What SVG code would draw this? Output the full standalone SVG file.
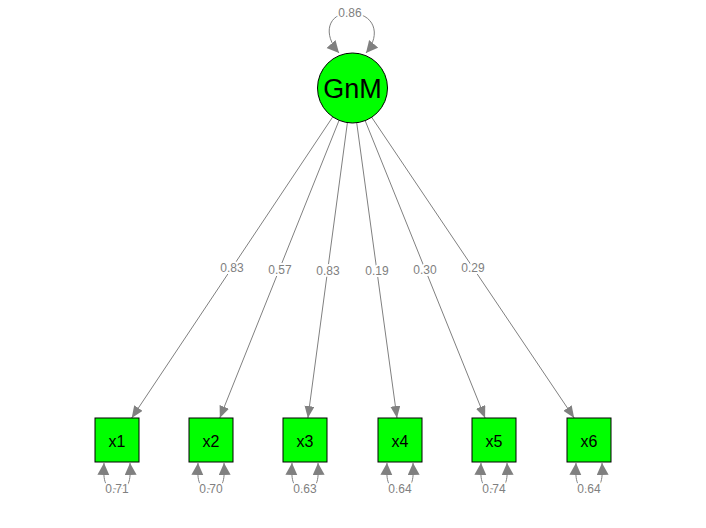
<svg xmlns="http://www.w3.org/2000/svg" width="706" height="528" viewBox="0 0 706 528">
<defs>
<marker id="ah" markerUnits="userSpaceOnUse" markerWidth="14" markerHeight="12" refX="12" refY="5" orient="auto">
<path d="M0,0 L12,5 L0,10 z" fill="#808080"/>
</marker>
<marker id="ahl" markerUnits="userSpaceOnUse" markerWidth="14" markerHeight="14" refX="12" refY="6" orient="auto">
<path d="M0,0 L12,6 L0,12 z" fill="#808080"/>
</marker>
<style>
.edge{stroke:#808080;stroke-width:1;fill:none;marker-end:url(#ah)}
.loop{stroke:#808080;stroke-width:1;fill:none;marker-end:url(#ahl)}
.lbl{font-family:"Liberation Sans",Arial,sans-serif;font-size:12px;fill:#808080;text-anchor:middle;dominant-baseline:central;stroke:#ffffff;stroke-width:4;paint-order:stroke;stroke-linejoin:round}
.box{fill:#00ff00;stroke:#000;stroke-width:1}
.nt{font-family:"Liberation Sans",Arial,sans-serif;fill:#000;text-anchor:middle;dominant-baseline:central}
</style>
</defs>
<rect width="706" height="528" fill="#fff"/>
<g id="connectors">
<line class="edge" x1="332.6" y1="117.1" x2="131.7" y2="418"/>
<line class="edge" x1="339" y1="120.5" x2="219.8" y2="418"/>
<line class="edge" x1="347.4" y1="122.7" x2="307.9" y2="418"/>
<line class="edge" x1="356.7" y1="122.7" x2="397" y2="418"/>
<line class="edge" x1="365.1" y1="120.5" x2="485.1" y2="418"/>
<line class="edge" x1="371.5" y1="117" x2="574.2" y2="418"/>
<text class="lbl" x="232" y="268">0.83</text>
<text class="lbl" x="280" y="270">0.57</text>
<text class="lbl" x="328" y="271">0.83</text>
<text class="lbl" x="377" y="271">0.19</text>
<text class="lbl" x="425" y="270">0.30</text>
<text class="lbl" x="473" y="268">0.29</text>
<path class="loop" d="M350,13 C328,13 322,34 339,53"/>
<path class="loop" d="M350,13 C374,13 382,34 366,53"/>
<text class="lbl" x="350" y="13">0.86</text>
<path class="loop" d="M117,489 C105,489 103,482 104,463"/>
<path class="loop" d="M117,489 C129,489 131,482 130,463"/>
<text class="lbl" x="117" y="489">0.71</text>
<path class="loop" d="M211,489 C199,489 197,482 198,463"/>
<path class="loop" d="M211,489 C223,489 225,482 224,463"/>
<text class="lbl" x="211" y="489">0.70</text>
<path class="loop" d="M305,489 C293,489 291,482 292,463"/>
<path class="loop" d="M305,489 C317,489 319,482 318,463"/>
<text class="lbl" x="305" y="489">0.63</text>
<path class="loop" d="M400,489 C388,489 386,482 387,463"/>
<path class="loop" d="M400,489 C412,489 414,482 413,463"/>
<text class="lbl" x="400" y="489">0.64</text>
<path class="loop" d="M494,489 C482,489 480,482 481,463"/>
<path class="loop" d="M494,489 C506,489 508,482 507,463"/>
<text class="lbl" x="494" y="489">0.74</text>
<path class="loop" d="M589,489 C577,489 575,482 576,463"/>
<path class="loop" d="M589,489 C601,489 603,482 602,463"/>
<text class="lbl" x="589" y="489">0.64</text>
</g>
<g id="GnM">
<circle class="box" cx="352.5" cy="88" r="35"/>
<text class="nt" x="352.5" y="89" font-size="27">GnM</text>
</g>
<g id="x1"><rect class="box" x="95" y="418" width="44" height="44"/><text class="nt" x="117" y="441" font-size="16">x1</text></g>
<g id="x2"><rect class="box" x="189" y="418" width="44" height="44"/><text class="nt" x="211" y="441" font-size="16">x2</text></g>
<g id="x3"><rect class="box" x="283" y="418" width="44" height="44"/><text class="nt" x="305" y="441" font-size="16">x3</text></g>
<g id="x4"><rect class="box" x="378" y="418" width="44" height="44"/><text class="nt" x="400" y="441" font-size="16">x4</text></g>
<g id="x5"><rect class="box" x="472" y="418" width="44" height="44"/><text class="nt" x="494" y="441" font-size="16">x5</text></g>
<g id="x6"><rect class="box" x="567" y="418" width="44" height="44"/><text class="nt" x="589" y="441" font-size="16">x6</text></g>
</svg>
